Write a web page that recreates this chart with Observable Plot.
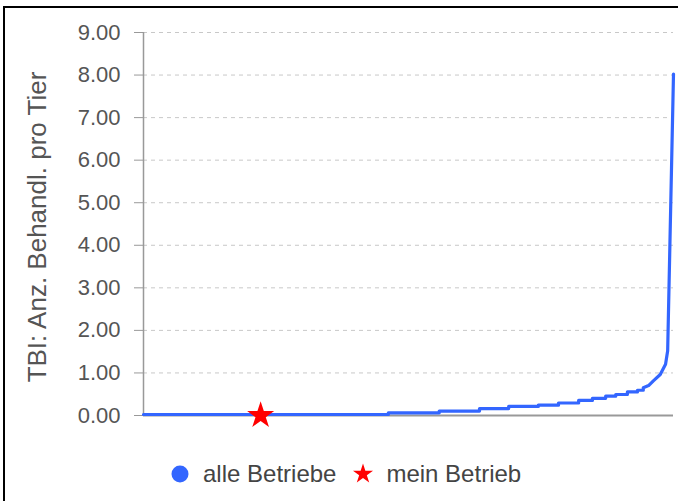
<!DOCTYPE html>
<html>
<head>
<meta charset="utf-8">
<script src="https://cdn.jsdelivr.net/npm/d3@7"></script>
<script src="https://cdn.jsdelivr.net/npm/@observablehq/plot@0.6"></script>
<style>
  html, body { margin: 0; padding: 0; background: #fff; overflow: hidden; width: 678px; height: 501px; }
  body { position: relative; font-family: "Liberation Sans", Arial, sans-serif; }
  #frame { position: absolute; left: 3px; top: 6px; width: 720px; height: 540px; border: 2px solid #000; box-sizing: border-box; }
  #chart { position: absolute; left: 0; top: 0; }
  #legend { position: absolute; left: 169px; top: 460px; display: flex; align-items: center; font-size: 24px; color: #444; white-space: nowrap; }
  #legend .item { display: flex; align-items: center; }
  #legend svg { display: block; }
</style>
</head>
<body>
<div id="frame"></div>
<div id="chart"></div>
<div id="legend"></div>
<script>
// Sorted distribution of all farms: percentile rank (x) and value (y)
const rankPct = [0, 46.2, 46.2, 55.8, 55.8, 63.4, 63.4, 68.9, 68.9, 74.5, 74.5, 78.3, 78.3, 82.1, 82.1, 84.7, 84.7, 87.2, 87.2, 89.1, 89.1, 91.3, 91.3, 93.2, 93.2, 94.3, 94.3, 95.3, 96.2, 97.5, 98.5, 98.9, 100];
const values  = [0, 0, 0.04, 0.04, 0.08, 0.08, 0.14, 0.14, 0.19, 0.19, 0.22, 0.22, 0.27, 0.27, 0.33, 0.33, 0.38, 0.38, 0.43, 0.43, 0.47, 0.47, 0.53, 0.53, 0.57, 0.57, 0.63, 0.68, 0.79, 0.94, 1.18, 1.5, 8.0];
// My farm
const myRankPct = [22.1];
const myValue = [0];
// Axis
const yTicks = [0, 1, 2, 3, 4, 5, 6, 7, 8, 9];
const yLabel = "TBI: Anz. Behandl. pro Tier";
// Legend
const seriesNames = ["alle Betriebe", "mein Betrieb"];
const seriesColors = ["#3366ff", "#ff0000"];

const lineData = rankPct.map((p, i) => ({p, v: values[i]}));
const myData = myRankPct.map((p, i) => ({p, v: myValue[i]}));

const chart = Plot.plot({
  width: 678,
  height: 440,
  marginLeft: 143,
  marginRight: 5,
  marginTop: 32,
  marginBottom: 25,
  style: {fontFamily: "'Liberation Sans', Arial, sans-serif", fontSize: "24px", color: "#555", background: "transparent", overflow: "visible"},
  x: {domain: [0, 100], axis: null},
  y: {domain: [0, 9], axis: null},
  marks: [
    Plot.gridY(yTicks, {stroke: "#c8c8c8", strokeOpacity: 1, strokeDasharray: "4,4", strokeWidth: 1}),
    Plot.axisY(yTicks, {tickFormat: d => d.toFixed(2), tickSize: 9, tickPadding: 14, stroke: "#999", fill: "#555", fontSize: 22, label: null}),
    Plot.text([yLabel], {frameAnchor: "left", rotate: -90, dx: -116, dy: 3, textAnchor: "middle", lineAnchor: "top", fontSize: 26, fill: "#555"}),
    Plot.ruleX([0], {stroke: "#999", strokeWidth: 1.5}),
    Plot.ruleY([0], {stroke: "#999", strokeWidth: 2}),
    Plot.line(lineData, {x: "p", y: "v", stroke: seriesColors[0], strokeWidth: 3.2, dy: -1}),
    Plot.dot(myData, {x: "p", y: "v", symbol: "star", r: 8.5, fill: seriesColors[1], stroke: "none"})
  ]
});
document.getElementById("chart").append(chart);

// Legend
const legend = document.getElementById("legend");
const symbolSizes = [8.5, 6.3];
seriesNames.forEach((name, i) => {
  const item = document.createElement("div");
  item.className = "item";
  item.style.marginRight = (i === 0 ? 16 : 0) + "px";
  const s = 22;
  const svg = d3.create("svg").attr("width", s).attr("height", s);
  const sym = i === 0 ? d3.symbolCircle : d3.symbolStar;
  const r = symbolSizes[i];
  svg.append("path")
    .attr("transform", `translate(${s / 2},${s / 2})`)
    .attr("d", d3.symbol(sym, Math.PI * r * r)())
    .attr("fill", seriesColors[i]);
  item.append(svg.node());
  const label = document.createElement("span");
  label.textContent = name;
  label.style.marginLeft = "12px";
  item.append(label);
  legend.append(item);
});
</script>
</body>
</html>
